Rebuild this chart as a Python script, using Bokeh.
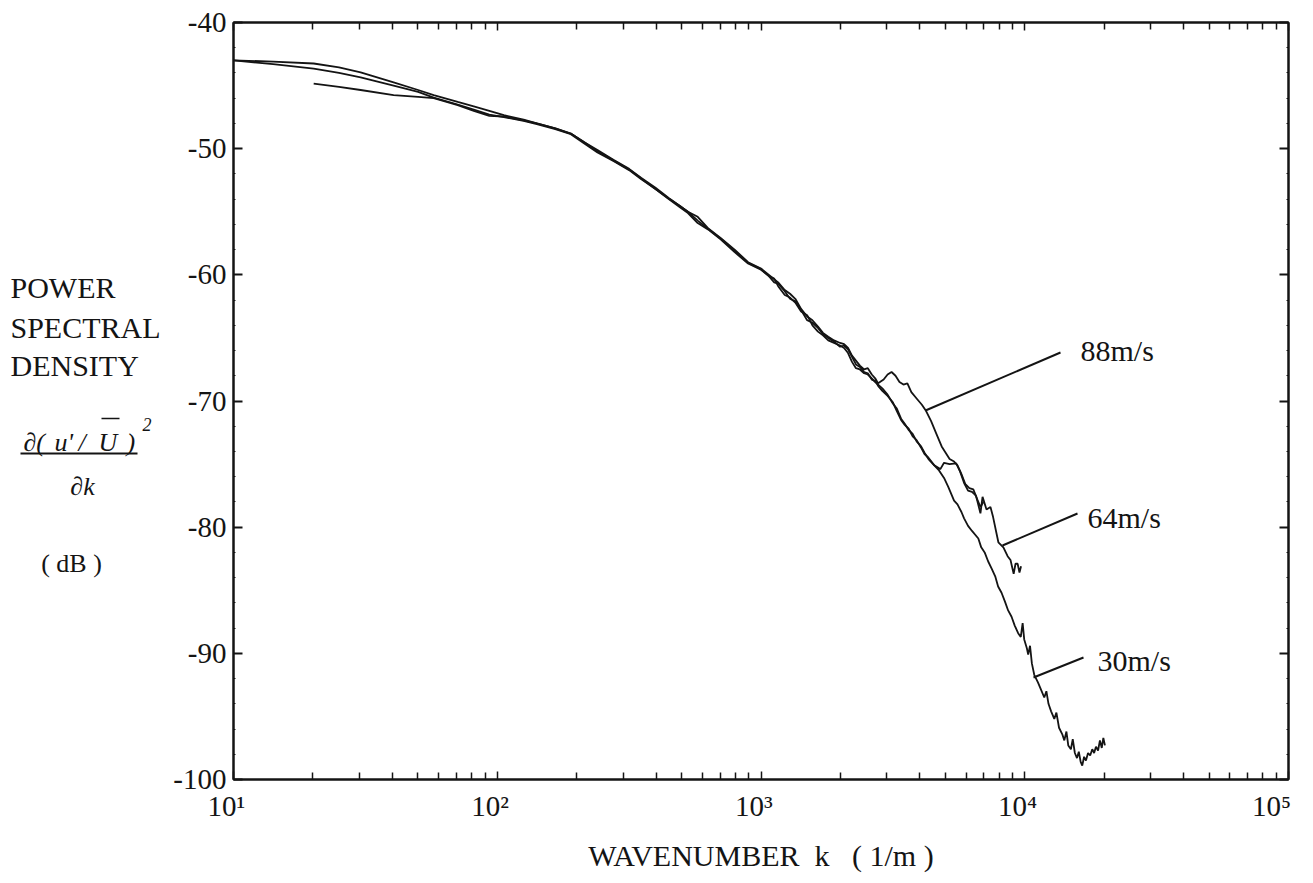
from bokeh.plotting import figure
from bokeh.layouts import row
from bokeh.models import FixedTicker, LinearAxis, LogAxis, Label, Arrow, Range1d
from bokeh.core.properties import value
from bokeh.embed import file_html
from bokeh.resources import INLINE

# ---------------- data (log10 of wavenumber k, PSD in dB) ----------------
logk_88 = [1.000, 1.150, 1.304, 1.400, 1.482, 1.607, 1.700, 1.759, 1.850, 1.911, 1.970, 2.025,
           2.100, 2.150, 2.220, 2.279, 2.330, 2.380, 2.442, 2.500, 2.545, 2.600, 2.650, 2.690,
           2.723, 2.760, 2.799, 2.848, 2.900, 2.951, 3.000, 3.030, 3.065, 3.090, 3.110, 3.130,
           3.152, 3.175, 3.195, 3.216, 3.235, 3.255, 3.277, 3.300, 3.315, 3.330, 3.345, 3.360,
           3.375, 3.391, 3.405, 3.420, 3.433, 3.444, 3.465, 3.480, 3.495, 3.510, 3.525, 3.540,
           3.555, 3.570, 3.590, 3.610, 3.626, 3.645, 3.665, 3.685, 3.700, 3.715, 3.732, 3.745,
           3.760, 3.775, 3.790, 3.805, 3.820, 3.832, 3.843]
db_88 = [-43.0, -43.1, -43.25, -43.55, -43.95, -44.75, -45.35, -45.75, -46.3, -46.65, -47.0, -47.35,
         -47.7, -48.0, -48.4, -48.8, -49.5, -50.1, -50.9, -51.6, -52.3, -53.1, -53.9, -54.5,
         -55.0, -55.4, -56.3, -57.1, -58.0, -59.0, -59.5, -60.0, -60.6, -61.2, -61.5, -61.9,
         -62.7, -63.3, -63.6, -64.1, -64.6, -64.9, -65.2, -65.4, -65.5, -65.8, -66.4, -66.8,
         -67.2, -67.5, -67.4, -67.9, -68.2, -68.6, -68.3, -67.9, -67.7, -68.0, -68.5, -68.7,
         -68.6, -69.3, -69.8, -70.3, -70.8, -71.6, -72.6, -73.6, -74.1, -74.6, -74.8, -75.1,
         -75.8, -76.6, -76.9, -77.0, -77.8, -78.4, -78.0]

logk_64 = [1.000, 1.150, 1.304, 1.400, 1.482, 1.607, 1.700, 1.759, 1.850, 1.911, 1.970, 2.025,
           2.100, 2.150, 2.220, 2.279, 2.330, 2.380, 2.442, 2.500, 2.545, 2.600, 2.650, 2.690,
           2.723, 2.760, 2.799, 2.848, 2.900, 2.951, 3.000, 3.030, 3.050, 3.065, 3.090, 3.110,
           3.130, 3.152, 3.175, 3.195, 3.216, 3.235, 3.255, 3.277, 3.300, 3.315, 3.330, 3.345,
           3.360, 3.375, 3.391, 3.405, 3.420, 3.433, 3.444, 3.460, 3.480, 3.500, 3.515, 3.531,
           3.545, 3.560, 3.575, 3.590, 3.607, 3.620, 3.635, 3.657, 3.680, 3.694, 3.715, 3.740,
           3.755, 3.770, 3.785, 3.800, 3.815, 3.832, 3.840, 3.855, 3.870, 3.880, 3.893, 3.900,
           3.919, 3.935, 3.946, 3.958, 3.965, 3.973, 3.980, 3.986]
db_64 = [-43.0, -43.3, -43.65, -44.0, -44.35, -45.0, -45.5, -45.95, -46.5, -46.9, -47.3, -47.5,
         -47.8, -48.05, -48.45, -48.85, -49.6, -50.3, -51.0, -51.7, -52.4, -53.2, -54.0, -54.6,
         -55.1, -55.9, -56.4, -57.2, -58.2, -59.1, -59.6, -60.1, -60.3, -60.9, -61.6, -61.8,
         -62.2, -62.9, -63.2, -64.0, -64.5, -64.8, -65.2, -65.4, -65.6, -65.8, -66.2, -66.9,
         -67.4, -67.5, -67.8, -67.9, -68.2, -68.5, -68.7, -69.0, -69.5, -70.2, -70.6, -71.4,
         -71.8, -72.3, -72.6, -73.2, -73.6, -74.1, -74.6, -75.1, -75.4, -74.9, -75.0, -74.95,
         -75.6, -76.5, -77.1, -77.2, -77.5, -78.9, -77.6, -78.6, -78.4, -79.2, -80.5, -81.2,
         -81.6, -82.3, -82.6, -83.7, -82.9, -82.9, -83.6, -83.1]

logk_30 = [1.304, 1.400, 1.482, 1.607, 1.700, 1.759, 1.850, 1.911, 1.970, 2.025, 2.100, 2.150,
           2.220, 2.279, 2.330, 2.380, 2.442, 2.500, 2.545, 2.600, 2.650, 2.690, 2.723, 2.760,
           2.799, 2.848, 2.900, 2.951, 3.000, 3.030, 3.050, 3.065, 3.090, 3.110, 3.130, 3.152,
           3.175, 3.195, 3.216, 3.235, 3.255, 3.277, 3.300, 3.315, 3.330, 3.345, 3.360, 3.375,
           3.391, 3.405, 3.420, 3.433, 3.444, 3.460, 3.480, 3.500, 3.515, 3.531, 3.545, 3.560,
           3.575, 3.590, 3.607, 3.620, 3.635, 3.657, 3.675, 3.694, 3.710, 3.732, 3.745, 3.760,
           3.770, 3.785, 3.800, 3.824, 3.835, 3.848, 3.861, 3.875, 3.888, 3.899, 3.912, 3.925,
           3.937, 3.950, 3.962, 3.975, 3.985, 3.992, 3.998, 4.008, 4.013, 4.020, 4.027, 4.036,
           4.050, 4.062, 4.074, 4.082, 4.090, 4.100, 4.112, 4.120, 4.130, 4.142, 4.150, 4.158,
           4.165, 4.175, 4.182, 4.190, 4.198, 4.205, 4.212, 4.218, 4.225, 4.232, 4.240, 4.248,
           4.256, 4.263, 4.270, 4.278, 4.285, 4.292, 4.298, 4.304]
db_30 = [-44.85, -45.1, -45.35, -45.75, -45.9, -46.0, -46.55, -47.0, -47.4, -47.45, -47.75, -48.0,
         -48.4, -48.8, -49.5, -50.2, -50.95, -51.65, -52.35, -53.2, -53.95, -54.5, -55.0, -55.7,
         -56.35, -57.15, -58.1, -59.05, -59.55, -60.1, -60.6, -60.7, -61.3, -61.9, -62.1, -62.8,
         -63.6, -63.8, -64.2, -64.7, -65.0, -65.3, -65.7, -65.6, -65.9, -66.5, -67.1, -67.3,
         -67.7, -67.8, -68.3, -68.4, -68.8, -69.2, -69.6, -70.1, -70.8, -71.5, -71.9, -72.2,
         -72.8, -73.1, -73.7, -74.2, -74.5, -75.1, -75.5, -76.1, -76.8, -77.9, -78.2, -78.8,
         -79.3, -79.9, -80.3, -80.9, -81.6, -82.0, -82.7, -83.3, -83.9, -84.7, -85.2, -85.9,
         -86.6, -87.1, -87.8, -88.4, -88.7, -87.6, -88.9, -89.6, -90.1, -89.4, -90.8, -91.7,
         -92.3, -92.9, -93.5, -93.0, -94.0, -94.6, -95.2, -94.7, -95.9, -96.4, -96.9, -96.2,
         -97.3, -97.6, -96.8, -97.9, -98.3, -97.8, -98.6, -98.9, -98.2, -98.5, -97.9, -98.1,
         -97.6, -97.9, -97.4, -97.7, -96.9, -97.5, -96.7, -97.3]

series_names = ["88m/s", "64m/s", "30m/s"]
y_ticks = [-100, -90, -80, -70, -60, -50, -40]
x_ticks = [10, 100, 1000, 10000, 100000]
x_tick_labels = ["10\u00b9", "10\u00b2", "10\u00b3", "10\u2074", "10\u2075"]
x_title = "WAVENUMBER\u00a0\u00a0k\u00a0\u00a0\u00a0( 1/m )"
y_title_lines = ["POWER", "SPECTRAL", "DENSITY"]

FONT = "Liberation Serif"
INK = "#141414"
H = 875
LEFT_W = 165
TOP_B, BOT_B = 22, 96

# ---------------- main plot ----------------
FL, FT, FW, FH = 233.0, 22.0, 1055.0, 757.0   # frame in page pixels
def px2x(px):
    return 10 ** (1 + 4 * (px - FL) / FW)
def py2y(py):
    return -40 - 60 * (py - FT) / FH

p = figure(width=1140, height=H, x_axis_type="log",
           x_range=Range1d(10, 100000), y_range=Range1d(-100, -40),
           output_backend="svg", toolbar_location=None,
           min_border_left=68, min_border_right=17, min_border_top=TOP_B, min_border_bottom=BOT_B,
           background_fill_color="white", border_fill_color="white")
p.grid.visible = False
p.outline_line_color = INK
p.outline_line_width = 2

minor_x = [m * 10 ** e for e in range(1, 5) for m in range(2, 10)]
minor_y = [v for v in range(-98, -40, 2) if v % 10 != 0]

def hide_labels(ax):
    ax.major_label_text_font_size = "1px"
    ax.major_label_text_alpha = 0
    ax.major_label_standoff = 0

def style_x(ax, labels):
    ax.ticker = FixedTicker(ticks=x_ticks, minor_ticks=minor_x)
    ax.major_tick_in = 8
    ax.major_tick_out = 0
    ax.minor_tick_in = 7
    ax.minor_tick_out = 0
    ax.axis_line_color = INK
    ax.axis_line_width = 2
    ax.major_tick_line_color = INK
    ax.minor_tick_line_color = INK
    ax.major_tick_line_width = 1.5
    ax.minor_tick_line_width = 1.5
    if labels:
        ax.major_label_overrides = {v: t + "\u00a0\u00a0" for v, t in zip(x_ticks, x_tick_labels)}
        ax.major_label_text_font = FONT
        ax.major_label_text_font_size = "29px"
        ax.major_label_text_color = INK
        ax.major_label_standoff = 10
        ax.axis_label = x_title
        ax.axis_label_text_font = FONT
        ax.axis_label_text_font_size = "30px"
        ax.axis_label_text_font_style = "normal"
        ax.axis_label_text_color = INK
        ax.axis_label_standoff = 14
    else:
        hide_labels(ax)

def style_y(ax, labels):
    ax.ticker = FixedTicker(ticks=y_ticks, minor_ticks=minor_y)
    ax.major_tick_in = 9
    ax.major_tick_out = 0
    ax.minor_tick_in = 2
    ax.minor_tick_out = 0
    ax.axis_line_color = INK
    ax.axis_line_width = 2
    ax.major_tick_line_color = INK
    ax.minor_tick_line_color = INK
    ax.major_tick_line_width = 2
    ax.minor_tick_line_width = 1
    if labels:
        ax.major_label_overrides = {v: str(v) for v in y_ticks}
        ax.major_label_text_font = FONT
        ax.major_label_text_font_size = "29px"
        ax.major_label_text_color = INK
        ax.major_label_standoff = 7
    else:
        hide_labels(ax)

style_x(p.xaxis[0], True)
style_y(p.yaxis[0], True)
top = LogAxis()
style_x(top, False)
p.add_layout(top, "above")
right = LinearAxis()
style_y(right, False)
p.add_layout(right, "right")

for lk, db in [(logk_88, db_88), (logk_64, db_64), (logk_30, db_30)]:
    p.line(x=[10 ** v for v in lk], y=db, line_color=INK, line_width=1.8)

callout_text_px = [(1080, 350), (1087, 517), (1097, 660)]
callout_line_px = [(925, 410, 1060, 352), (1002, 545, 1077, 513), (1033, 677, 1083, 657)]
for name, (tx, ty), (a, b, c, d) in zip(series_names, callout_text_px, callout_line_px):
    p.add_layout(Label(x=px2x(tx), y=py2y(ty), text=name, text_font=FONT, text_font_size="30px",
                       text_align="left", text_baseline="alphabetic", text_color=INK))
    p.add_layout(Arrow(end=None, start=None, x_start=px2x(a), y_start=py2y(b),
                       x_end=px2x(c), y_end=py2y(d), line_color=INK, line_width=2))

# ---------------- left title panel (page-pixel coordinates) ----------------
# its frame is aligned with the main frame (page y 22 .. 779)
left = figure(width=LEFT_W, height=H, x_range=Range1d(0, LEFT_W), y_range=Range1d(FT + FH, FT),
              output_backend="svg", toolbar_location=None,
              min_border_left=0, min_border_right=0, min_border_top=TOP_B, min_border_bottom=BOT_B,
              x_axis_location=None, y_axis_location=None,
              background_fill_color="white", border_fill_color="white")
left.grid.visible = False
left.outline_line_color = None

def ltext(xs, ys, texts, size, align="left", style="normal"):
    left.text(x=xs, y=ys, text=texts, text_font=value(FONT), text_font_size=value(size),
              text_align=value(align), text_baseline=value("alphabetic"),
              text_font_style=value(style), text_color=INK)

ltext([10, 10, 10], [287, 327, 365], y_title_lines, "30px")
ltext([23, 54, 78, 98, 126], [442] * 5, ["\u2202(", "u'", "/", "U", ")"], "26px", style="italic")
ltext([142], [424], ["2"], "18px", style="italic")
ltext([82], [486], ["\u2202k"], "26px", align="center", style="italic")
ltext([71], [563], ["( dB )"], "26px", align="center")
left.segment(x0=[101, 20], y0=[418, 453], x1=[119, 137], y1=[418, 453],
             line_color=INK, line_width=[1.5, 2])

layout = row(left, p)
open("out.html", "w").write(file_html(layout, INLINE))
